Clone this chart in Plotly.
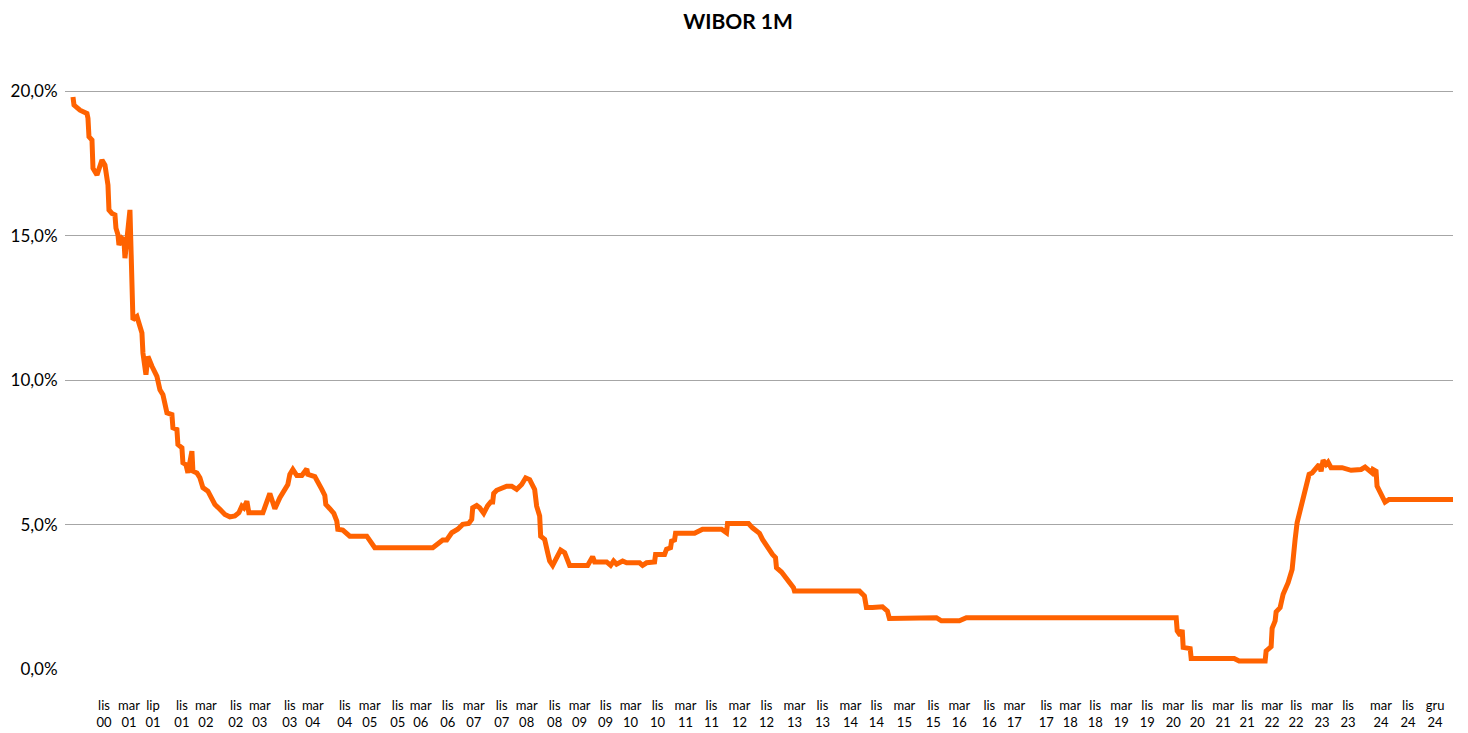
import plotly.graph_objects as go

# Observation index (sequence position in the series) and WIBOR 1M level in %
obs = [0, 1, 7, 14, 15, 16, 19, 20, 24, 27, 29, 32, 35, 36, 39, 42, 43, 45, 46, 49,
       51, 52, 54, 57, 60, 64, 69, 70, 73, 75, 79, 84, 87, 90, 94, 99, 100, 104, 105, 109,
       110, 113, 115, 119, 120, 124, 127, 130, 135, 139, 142, 147, 152, 157, 162, 166, 169, 171, 174, 176,
       190, 197, 202, 207, 215, 217, 220, 224, 229, 234, 235, 242, 245, 249, 252, 253, 257, 261, 264, 265,
       270, 277, 294, 302, 360, 370, 374, 379, 385, 390, 396, 399, 400, 404, 407, 411, 415, 418, 420, 421,
       424, 429, 434, 439, 444, 449, 453, 457, 462, 464, 467, 468, 472, 475, 477, 480, 484, 488, 492, 497,
       515, 520, 522, 534, 538, 541, 544, 550, 554, 567, 570, 574, 582, 583, 592, 594, 598, 599, 602, 603,
       622, 630, 649, 654, 655, 676, 680, 687, 690, 695, 700, 703, 704, 709, 714, 719, 721, 722, 787, 792,
       794, 800, 810, 815, 817, 864, 869, 887, 894, 1104, 1105, 1108, 1110, 1111, 1118, 1119, 1162, 1167, 1193, 1194,
       1199, 1200, 1203, 1204, 1208, 1211, 1216, 1220, 1221, 1223, 1225, 1229, 1234, 1237, 1240, 1244, 1247, 1249, 1251, 1254,
       1256, 1259, 1270, 1279, 1289, 1293, 1297, 1300, 1301, 1304, 1305, 1309, 1313, 1317, 1381]

wibor = [19.80, 19.52, 19.34, 19.23, 19.06, 18.42, 18.31, 17.33, 17.10, 17.44, 17.62, 17.44, 16.75, 15.89, 15.77, 15.72, 15.26, 15.03, 14.68, 14.91,
         14.85, 14.22, 14.79, 15.89, 12.09, 12.20, 11.63, 10.94, 10.19, 10.82, 10.48, 10.13, 9.67, 9.50, 8.87, 8.81, 8.35, 8.29, 7.77, 7.66,
         7.14, 7.08, 6.79, 7.54, 6.85, 6.79, 6.62, 6.28, 6.16, 5.87, 5.70, 5.53, 5.35, 5.27, 5.30, 5.41, 5.64, 5.58, 5.81, 5.41,
         5.41, 6.08, 5.55, 5.93, 6.39, 6.74, 6.91, 6.70, 6.70, 6.93, 6.74, 6.66, 6.50, 6.22, 6.01, 5.70, 5.55, 5.39, 5.12, 4.84,
         4.81, 4.60, 4.60, 4.20, 4.20, 4.47, 4.47, 4.72, 4.84, 5.01, 5.04, 5.18, 5.58, 5.66, 5.58, 5.39, 5.66, 5.78, 5.78, 6.08,
         6.19, 6.24, 6.33, 6.33, 6.22, 6.39, 6.62, 6.56, 6.22, 5.64, 5.30, 4.60, 4.49, 4.03, 3.74, 3.59, 3.86, 4.12, 4.03, 3.59,
         3.59, 3.89, 3.71, 3.71, 3.59, 3.74, 3.63, 3.74, 3.68, 3.68, 3.59, 3.68, 3.71, 3.97, 3.97, 4.15, 4.20, 4.43, 4.47, 4.70,
         4.70, 4.84, 4.84, 4.72, 5.04, 5.04, 4.89, 4.70, 4.49, 4.20, 3.97, 3.86, 3.51, 3.36, 3.13, 2.97, 2.82, 2.70, 2.70, 2.53,
         2.13, 2.13, 2.16, 2.01, 1.75, 1.78, 1.67, 1.67, 1.78, 1.78, 1.32, 1.17, 1.36, 0.75, 0.71, 0.37, 0.37, 0.28, 0.28, 0.63,
         0.78, 1.41, 1.67, 1.98, 2.13, 2.59, 2.99, 3.45, 3.91, 4.49, 5.07, 5.64, 6.33, 6.74, 6.79, 6.97, 7.08, 6.85, 7.23, 7.08,
         7.16, 6.97, 6.97, 6.88, 6.91, 6.99, 6.88, 6.79, 6.91, 6.85, 6.33, 6.04, 5.78, 5.87, 5.87]

tick_pos = [31, 56, 80, 109, 133, 163, 187, 217, 240, 272, 297, 325, 348, 375, 401, 429, 454,
            482, 507, 533, 558, 585, 613, 639, 667, 694, 722, 750, 778, 804, 832, 861, 887,
            917, 942, 974, 998, 1023, 1049, 1075, 1101, 1125, 1151, 1175, 1200, 1224, 1250,
            1276, 1309, 1336, 1363]
tick_labels = ["lis<br>00", "mar<br>01", "lip<br>01", "lis<br>01", "mar<br>02", "lis<br>02",
               "mar<br>03", "lis<br>03", "mar<br>04", "lis<br>04", "mar<br>05", "lis<br>05",
               "mar<br>06", "lis<br>06", "mar<br>07", "lis<br>07", "mar<br>08", "lis<br>08",
               "mar<br>09", "lis<br>09", "mar<br>10", "lis<br>10", "mar<br>11", "lis<br>11",
               "mar<br>12", "lis<br>12", "mar<br>13", "lis<br>13", "mar<br>14", "lis<br>14",
               "mar<br>15", "lis<br>15", "mar<br>16", "lis<br>16", "mar<br>17", "lis<br>17",
               "mar<br>18", "lis<br>18", "mar<br>19", "lis<br>19", "mar<br>20", "lis<br>20",
               "mar<br>21", "lis<br>21", "mar<br>22", "lis<br>22", "mar<br>23", "lis<br>23",
               "mar<br>24", "lis<br>24", "gru<br>24"]

FONT = "Lato, 'Open Sans', sans-serif"

fig = go.Figure()
fig.add_trace(go.Scatter(
    x=obs, y=wibor, mode="lines",
    line=dict(color="#FF6200", width=5),
    showlegend=False, hoverinfo="y",
))

# the page body adds an 8px margin, so the figure is 8px smaller on each side
fig.update_layout(
    width=1460, height=725,
    paper_bgcolor="white", plot_bgcolor="white",
    margin=dict(l=57, r=15, t=82, b=63, autoexpand=False),
    font=dict(family=FONT, color="#000000"),
    title=dict(text="<b>WIBOR 1M</b>", x=0.5, xanchor="center",
               y=1 - 14 / 725, yref="container", yanchor="middle",
               font=dict(family=FONT, size=21, color="#000000")),
    xaxis=dict(
        range=[-8, 1381], showgrid=False, zeroline=False, showline=False,
        automargin=False,
        tickmode="array", tickvals=tick_pos, ticktext=tick_labels,
        ticks="outside", ticklen=23, tickcolor="rgba(0,0,0,0)",
        tickfont=dict(family=FONT, size=13, color="#000000"),
        tickangle=0,
    ),
    yaxis=dict(
        range=[-0.03, 20.04], dtick=5, tick0=0,
        automargin=False,
        showgrid=True, gridcolor="#A6A6A6", gridwidth=1,
        zeroline=False, showline=False,
        tickformat=".1f", ticksuffix="%",
        tickfont=dict(family=FONT, size=17, color="#000000"),
        ticks="outside", ticklen=3, tickcolor="rgba(0,0,0,0)",
    ),
    separators=", ",
)

fig.write_html("out.html")
